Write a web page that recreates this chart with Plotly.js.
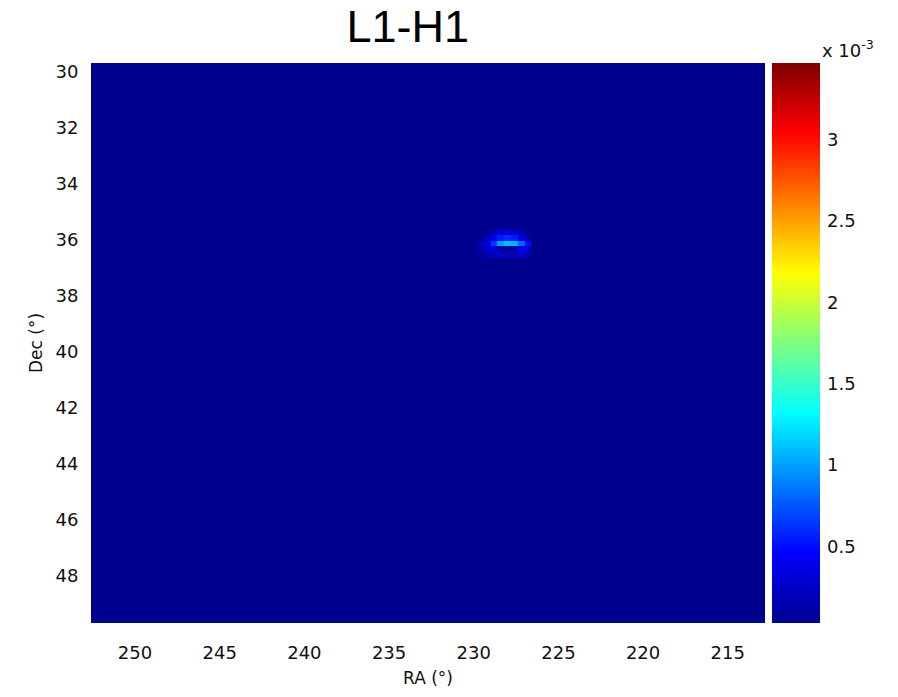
<!DOCTYPE html>
<html>
<head>
<meta charset="utf-8">
<script src="https://cdn.plot.ly/plotly-3.0.1.min.js"></script>
<style>html,body{margin:0;padding:0;background:#fff;}#chart{width:898px;height:697px;}</style>
</head>
<body>
<div id="chart"></div>
<script>
// Cell edges (degrees): wide background cells plus a fine grid around the source
const raEdges  = [212.8, 226.6, 227.0, 227.4, 227.8, 228.2, 228.6, 229.0, 229.4, 229.8, 230.2, 252.6];
const decEdges = [29.7, 35.65, 35.85, 36.05, 36.25, 36.45, 36.65, 49.7];

// Map values (units of 1e-3), one array per Dec row, columns in increasing RA
const row0 = [0.03, 0.03, 0.03, 0.03, 0.03, 0.03, 0.03, 0.03, 0.03, 0.03, 0.03];
const row1 = [0.03, 0.03, 0.20, 0.30, 0.35, 0.30, 0.20, 0.03, 0.03, 0.03, 0.03];
const row2 = [0.03, 0.15, 0.35, 0.55, 0.60, 0.55, 0.40, 0.20, 0.03, 0.03, 0.03];
const row3 = [0.03, 0.50, 0.80, 1.05, 1.10, 1.00, 0.65, 0.30, 0.20, 0.03, 0.03];
const row4 = [0.03, 0.30, 0.40, 0.10, 0.05, 0.15, 0.35, 0.30, 0.15, 0.03, 0.03];
const row5 = [0.03, 0.15, 0.25, 0.20, 0.20, 0.25, 0.20, 0.15, 0.03, 0.03, 0.03];
const row6 = [0.03, 0.03, 0.03, 0.03, 0.03, 0.03, 0.03, 0.03, 0.03, 0.03, 0.03];

const xTicks = [250, 245, 240, 235, 230, 225, 220, 215];
const yTicks = [30, 32, 34, 36, 38, 40, 42, 44, 46, 48];
const cbTicks = [0.5, 1, 1.5, 2, 2.5, 3];
const cbLabels = ['0.5', '1', '1.5', '2', '2.5', '3'];

const zMin = 0.03, zMax = 3.47;

const jet = [
  [0.0, 'rgb(0,0,143)'],
  [0.125, 'rgb(0,0,255)'],
  [0.375, 'rgb(0,255,255)'],
  [0.625, 'rgb(255,255,0)'],
  [0.875, 'rgb(255,0,0)'],
  [1.0, 'rgb(128,0,0)']
];

const tickFont = {family: 'DejaVu Sans', size: 18, color: '#111'};
const labFont = {family: 'DejaVu Sans', size: 17, color: '#111'};
const titleFont = {family: 'Liberation Sans', size: 45, color: '#000'};

const trace = {
  type: 'heatmap',
  x: raEdges,
  y: decEdges,
  z: [row0, row1, row2, row3, row4, row5, row6],
  zmin: zMin, zmax: zMax,
  colorscale: jet,
  hoverinfo: 'skip',
  colorbar: {
    x: 1.0104, xanchor: 'left', xref: 'paper',
    y: 0.5, yanchor: 'middle', len: 1, lenmode: 'fraction',
    thickness: 48, thicknessmode: 'pixels',
    outlinewidth: 0,
    tickvals: cbTicks, ticktext: cbLabels,
    ticks: 'outside', ticklen: 4, tickcolor: 'rgba(0,0,0,0)',
    tickfont: tickFont,
    xpad: 0, ypad: 0
  }
};

const layout = {
  width: 898, height: 697,
  paper_bgcolor: '#fff', plot_bgcolor: '#fff',
  margin: {l: 91, r: 133, t: 63, b: 74},
  title: {text: 'L1-H1', x: 0.454, xanchor: 'center', y: 0.962, yanchor: 'middle',
          font: titleFont},
  xaxis: {
    range: [252.6, 212.8], tickvals: xTicks, ticktext: xTicks.map(String),
    ticks: 'outside', ticklen: 13, tickcolor: 'rgba(0,0,0,0)',
    showgrid: false, zeroline: false, showline: false,
    tickfont: tickFont,
    title: {text: 'RA (°)', font: labFont, standoff: 10}
  },
  yaxis: {
    range: [49.7, 29.7], tickvals: yTicks, ticktext: yTicks.map(String),
    ticks: 'outside', ticklen: 8, tickcolor: 'rgba(0,0,0,0)',
    showgrid: false, zeroline: false, showline: false,
    tickfont: tickFont,
    title: {text: 'Dec (°)', font: labFont, standoff: 8}
  },
  annotations: [{
    text: 'x 10<sup>-3</sup>', xref: 'paper', yref: 'paper',
    x: 1.081, y: 1.0, xanchor: 'left', yanchor: 'bottom', showarrow: false,
    font: tickFont
  }]
};

Plotly.newPlot('chart', [trace], layout, {displayModeBar: false, staticPlot: true});
</script>
</body>
</html>
